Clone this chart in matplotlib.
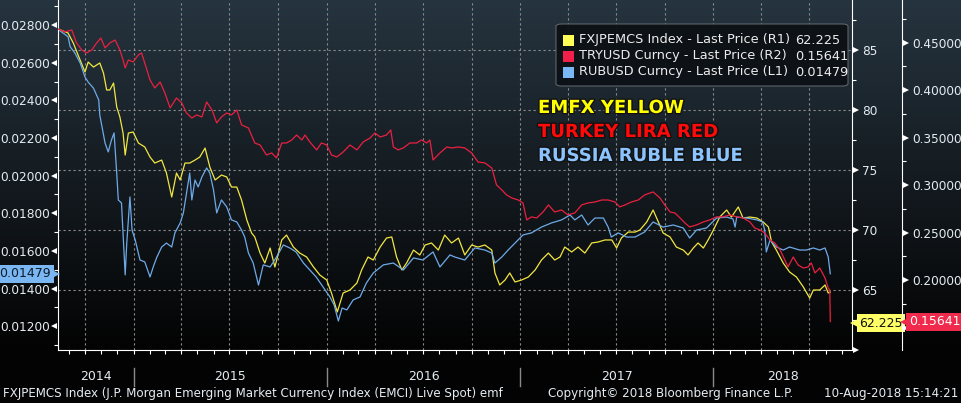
import numpy as np
import pandas as pd
import matplotlib
matplotlib.use('Agg')
import matplotlib.pyplot as plt
import matplotlib.dates as mdates
import matplotlib.ticker as mticker
import matplotlib.patheffects as pe
from matplotlib.transforms import blended_transform_factory as blend
from matplotlib.patches import FancyBboxPatch, Rectangle

start = pd.Timestamp('2014-08-11')
x_end = pd.Timestamp('2018-09-20')

# RUBUSD (L1), days after start
rub_days = [0, 19, 23, 32, 42, 51, 57, 67, 73, 77,
            79, 89, 95, 101, 106, 111, 114, 120, 123, 127,
            130, 136, 140, 146, 155, 164, 174, 180, 187, 196,
            205, 215, 221, 231, 237, 243, 249, 253, 259, 265,
            272, 281, 287, 294, 300, 309, 319, 328, 338, 347,
            353, 360, 369, 379, 388, 401, 412, 426, 438, 450,
            464, 476, 488, 501, 514, 522, 530, 537, 546, 558,
            571, 583, 596, 615, 634, 653, 672, 690, 709, 722,
            741, 750, 769, 788, 807, 820, 826, 839, 851, 864,
            879, 895, 914, 933, 952, 968, 977, 990, 1002, 1015,
            1031, 1040, 1046, 1059, 1075, 1091, 1109, 1125, 1144, 1163,
            1182, 1194, 1207, 1226, 1245, 1264, 1276, 1280, 1283, 1302,
            1321, 1332, 1336, 1339, 1346, 1358, 1371, 1383, 1402, 1415,
            1428, 1440, 1450, 1456, 1460]
rub_vals = [0.02777, 0.02738, 0.02685, 0.02651, 0.02598, 0.02524, 0.02497, 0.02465, 0.02428, 0.02402,
            0.02322, 0.02173, 0.02126, 0.02189, 0.02227, 0.02014, 0.01871, 0.01855, 0.01696, 0.01473,
            0.01642, 0.01887, 0.01711, 0.01658, 0.01552, 0.01542, 0.01462, 0.01515, 0.01568, 0.01621,
            0.01642, 0.01621, 0.01696, 0.01749, 0.01802, 0.01908, 0.02014, 0.01871, 0.01977, 0.01940,
            0.01993, 0.02041, 0.02014, 0.01924, 0.01802, 0.01871, 0.01834, 0.01765, 0.01754, 0.01711,
            0.01674, 0.01589, 0.01536, 0.01419, 0.01526, 0.01515, 0.01563, 0.01632, 0.01616, 0.01595,
            0.01536, 0.01499, 0.01462, 0.01409, 0.01356, 0.01313, 0.01228, 0.01297, 0.01287, 0.01340,
            0.01356, 0.01430, 0.01483, 0.01526, 0.01536, 0.01499, 0.01563, 0.01552, 0.01595, 0.01515,
            0.01579, 0.01568, 0.01552, 0.01616, 0.01605, 0.01589, 0.01536, 0.01568, 0.01605, 0.01642,
            0.01685, 0.01696, 0.01727, 0.01749, 0.01765, 0.01791, 0.01765, 0.01791, 0.01738, 0.01775,
            0.01775, 0.01727, 0.01674, 0.01696, 0.01674, 0.01674, 0.01701, 0.01754, 0.01727, 0.01738,
            0.01722, 0.01669, 0.01711, 0.01722, 0.01775, 0.01780, 0.01770, 0.01727, 0.01780, 0.01775,
            0.01765, 0.01754, 0.01711, 0.01595, 0.01658, 0.01621, 0.01605, 0.01621, 0.01605, 0.01605,
            0.01616, 0.01605, 0.01616, 0.01568, 0.01479]

# FXJPEMCS index (R1)
emfx_days = [0, 19, 29, 38, 51, 57, 67, 79, 86, 92,
             98, 105, 111, 117, 123, 127, 133, 142, 152, 164,
             174, 183, 196, 205, 215, 224, 231, 240, 249, 259,
             268, 278, 287, 297, 309, 319, 328, 338, 347, 357,
             366, 372, 382, 391, 401, 410, 423, 432, 445, 457,
             470, 483, 495, 508, 517, 528, 539, 552, 565, 574,
             586, 596, 609, 621, 631, 640, 650, 659, 672, 684,
             694, 706, 719, 731, 744, 757, 769, 782, 794, 807,
             820, 826, 835, 845, 854, 864, 876, 889, 902, 914,
             927, 939, 949, 958, 971, 983, 996, 1009, 1021, 1034,
             1047, 1056, 1065, 1078, 1091, 1100, 1113, 1125, 1135, 1144,
             1157, 1169, 1182, 1191, 1201, 1210, 1220, 1229, 1239, 1251,
             1264, 1273, 1286, 1295, 1308, 1321, 1333, 1343, 1349, 1358,
             1371, 1383, 1396, 1409, 1421, 1428, 1440, 1450, 1456, 1460]
emfx_vals = [86.75, 86.42, 85.58, 84.58, 83.17, 84.00, 83.58, 83.92, 83.08, 81.67,
             81.67, 82.25, 80.25, 79.42, 78.08, 76.25, 78.08, 78.17, 77.25, 76.92,
             76.08, 75.58, 75.83, 74.75, 72.75, 74.75, 74.17, 75.58, 75.58, 75.83,
             76.08, 76.83, 75.25, 74.17, 74.58, 74.42, 73.58, 73.58, 72.50, 70.83,
             69.75, 69.42, 68.08, 67.25, 68.50, 66.92, 69.17, 69.58, 68.58, 68.08,
             67.75, 66.92, 66.25, 65.83, 64.75, 63.17, 64.75, 65.00, 65.58, 66.67,
             67.75, 67.50, 68.58, 69.33, 69.42, 67.75, 66.67, 67.25, 68.33, 67.92,
             68.75, 68.92, 68.33, 69.58, 68.92, 69.33, 67.92, 68.75, 68.58, 68.75,
             68.33, 66.42, 65.42, 65.83, 66.42, 65.67, 65.83, 66.08, 66.67, 67.50,
             68.08, 67.50, 67.75, 68.58, 68.17, 68.58, 68.08, 68.92, 69.00, 69.17,
             69.17, 68.50, 69.33, 69.83, 69.83, 70.00, 70.67, 71.67, 70.67, 69.75,
             69.42, 68.58, 68.33, 67.92, 68.50, 68.92, 68.50, 69.17, 70.00, 71.08,
             71.67, 71.08, 71.92, 71.00, 71.08, 71.00, 70.67, 70.25, 69.00, 68.33,
             67.25, 66.50, 66.08, 65.25, 64.33, 65.00, 65.00, 65.42, 64.75, 64.83]

# TRYUSD (R2)
try_days = [0, 13, 26, 35, 45, 54, 64, 73, 81, 89,
            98, 108, 117, 123, 127, 133, 142, 152, 158, 164,
            174, 183, 193, 202, 212, 218, 224, 234, 243, 253,
            262, 272, 281, 291, 300, 309, 319, 328, 338, 347,
            360, 372, 382, 394, 404, 413, 423, 432, 442, 451,
            461, 467, 476, 489, 498, 508, 517, 527, 539, 552,
            565, 577, 590, 599, 609, 621, 629, 634, 643, 653,
            665, 678, 687, 697, 703, 709, 722, 735, 744, 757,
            769, 782, 794, 807, 820, 829, 839, 848, 858, 870,
            879, 886, 895, 905, 917, 927, 939, 952, 964, 977,
            990, 1002, 1015, 1028, 1040, 1053, 1062, 1072, 1084, 1097,
            1109, 1125, 1138, 1147, 1157, 1166, 1176, 1185, 1194, 1207,
            1220, 1232, 1245, 1257, 1270, 1283, 1295, 1308, 1317, 1327,
            1336, 1346, 1355, 1365, 1374, 1380, 1390, 1399, 1409, 1418,
            1424, 1431, 1440, 1450, 1456, 1459, 1460]
try_vals = [0.4644, 0.4613, 0.4634, 0.4497, 0.4423, 0.4392, 0.4423, 0.4497, 0.4549, 0.4444,
            0.4497, 0.4528, 0.4423, 0.4318, 0.4234, 0.4318, 0.4297, 0.4371, 0.4392, 0.4286,
            0.4107, 0.4023, 0.4086, 0.3971, 0.3813, 0.3865, 0.3918, 0.3865, 0.3760, 0.3707,
            0.3739, 0.3718, 0.3876, 0.3792, 0.3655, 0.3718, 0.3760, 0.3739, 0.3792, 0.3634,
            0.3602, 0.3444, 0.3423, 0.3318, 0.3339, 0.3286, 0.3444, 0.3444, 0.3476, 0.3528,
            0.3476, 0.3528, 0.3455, 0.3371, 0.3444, 0.3423, 0.3318, 0.3297, 0.3349, 0.3423,
            0.3371, 0.3455, 0.3497, 0.3549, 0.3507, 0.3528, 0.3581, 0.3402, 0.3371, 0.3392,
            0.3444, 0.3444, 0.3476, 0.3444, 0.3476, 0.3265, 0.3339, 0.3402, 0.3392, 0.3402,
            0.3392, 0.3339, 0.3244, 0.3234, 0.3181, 0.3002, 0.2950, 0.2897, 0.2865, 0.2844,
            0.2813, 0.2634, 0.2666, 0.2655, 0.2718, 0.2792, 0.2718, 0.2739, 0.2687, 0.2708,
            0.2792, 0.2813, 0.2823, 0.2844, 0.2844, 0.2823, 0.2771, 0.2792, 0.2823, 0.2844,
            0.2897, 0.2929, 0.2865, 0.2792, 0.2718, 0.2708, 0.2655, 0.2603, 0.2560, 0.2581,
            0.2613, 0.2634, 0.2666, 0.2666, 0.2687, 0.2666, 0.2655, 0.2613, 0.2550, 0.2529,
            0.2497, 0.2423, 0.2392, 0.2318, 0.2213, 0.2139, 0.2244, 0.2160, 0.2128, 0.2139,
            0.2181, 0.2076, 0.2128, 0.2023, 0.1918, 0.1897, 0.15641]

last_emfx = 62.225
last_try = 0.15641
last_rub = 0.01479

years = [2014, 2015, 2016, 2017, 2018]

c_yel, c_red, c_blue = '#f2e640', '#ea2040', '#6eaae8'
txt = '#e4ecf2'
W, H = 961, 403

fig = plt.figure(figsize=(W / 100, H / 100), dpi=100)
fig.patch.set_facecolor('black')

# background gradient
bg = fig.add_axes([0, 0, 1, 1], zorder=-10)
t = np.clip(np.arange(H) / 350.0, 0, 1)[:, None]
top, bot = np.array([38, 52, 63]) / 255, np.array([3, 3, 3]) / 255
grad = (top * (1 - t) + bot * t)[:, None, :].repeat(2, axis=1)
bg.imshow(grad, aspect='auto', extent=[0, 1, 0, 1])
bg.axis('off')

rect = [58 / W, 1 - 350 / H, 794 / W, 350 / H]
ax_e = fig.add_axes(rect)
ax_e.patch.set_alpha(0)
ax_r = ax_e.twinx()
ax_t = ax_e.twinx()

def to_dates(days):
    return start + pd.to_timedelta(days, unit='D')

ax_e.plot(to_dates(emfx_days), emfx_vals, color=c_yel, lw=0.9)
ax_r.plot(to_dates(rub_days), rub_vals, color=c_blue, lw=0.9)
ax_t.plot(to_dates(try_days), try_vals, color=c_red, lw=0.9)

ax_e.set_xlim(start, x_end)
ax_e.set_ylim(60.0, 89.17)
ax_r.set_ylim(0.01074, 0.02933)
ax_t.set_ylim(0.1265, 0.4949)

for a in (ax_e, ax_r, ax_t):
    for s in a.spines.values():
        s.set_visible(False)

# x axis
ax_e.spines['bottom'].set_visible(True)
ax_e.spines['bottom'].set_color('white')
ax_e.xaxis.set_major_locator(mdates.MonthLocator(bymonth=[1, 4, 7, 10]))
ax_e.xaxis.set_minor_locator(mdates.MonthLocator())
ax_e.xaxis.set_major_formatter(mticker.NullFormatter())
ax_e.tick_params(axis='x', which='both', direction='out', length=3, color='white', width=0.8)
ax_e.grid(axis='x', which='major', color='#8c8c8c', ls=(0, (2, 2.5)), lw=0.8)
ax_e.grid(axis='y', which='major', color='#8c8c8c', ls=(0, (2, 2.5)), lw=0.8)
ax_e.set_axisbelow(True)

xt = blend(ax_e.transData, ax_e.transAxes)
x0, x1 = mdates.date2num(start), mdates.date2num(x_end)
for yr in years:
    a = max(mdates.date2num(pd.Timestamp(f'{yr}-01-01')), x0)
    b = min(mdates.date2num(pd.Timestamp(f'{yr + 1}-01-01')), x1)
    ax_e.text((a + b) / 2, -27 / 350, str(yr), transform=xt, ha='center', va='center',
              color=txt, fontsize=9)
    if yr > 2014:
        ax_e.plot([a, a], [-18 / 350, -36 / 350], transform=xt, color='#8a8a8a',
                  lw=1, clip_on=False)

# R1 axis (yellow) on the right
ax_e.yaxis.tick_right()
ax_e.spines['right'].set_visible(True)
ax_e.spines['right'].set_color('white')
ax_e.yaxis.set_major_locator(mticker.MultipleLocator(5))
ax_e.yaxis.set_minor_locator(mticker.MultipleLocator(2.5))
ax_e.yaxis.set_major_formatter(mticker.FuncFormatter(lambda v, p: '' if v < 61 else f'{v:.0f}'))

# L1 axis (blue) on the left
ax_r.yaxis.tick_left()
ax_r.spines['left'].set_visible(True)
ax_r.spines['left'].set_color('white')
ax_r.yaxis.set_major_locator(mticker.MultipleLocator(0.002))
ax_r.yaxis.set_minor_locator(mticker.MultipleLocator(0.001))
ax_r.yaxis.set_major_formatter(mticker.FormatStrFormatter('%.5f'))

# R2 axis (red), outward
off = 50 / 794
ax_t.spines['right'].set_visible(True)
ax_t.spines['right'].set_position(('outward', 36))
ax_t.spines['right'].set_color('white')
ax_t.yaxis.set_major_locator(mticker.MultipleLocator(0.05))
ax_t.yaxis.set_minor_locator(mticker.MultipleLocator(0.025))
ax_t.yaxis.set_major_formatter(mticker.FuncFormatter(lambda v, p: '' if v < 0.16 else f'{v:.5f}'))

px = 1 / 794
for a, xpos, mk, pad in ((ax_e, 1 + 4 * px, '>', 7.2), (ax_r, -4 * px, '<', 5.8),
                         (ax_t, 1 + off + 4 * px, '>', 7.2)):
    a.tick_params(axis='y', which='major', length=0, pad=pad, labelcolor=txt, labelsize=8.7)
    a.tick_params(axis='y', which='minor', length=3, color='white', width=0.8, direction='out')
    lo, hi = a.get_ylim()
    tv = [v for v in a.yaxis.get_major_locator().tick_values(lo, hi) if lo <= v <= hi]
    a.plot([xpos] * len(tv), tv, ls='none', marker=mk, ms=5, mew=0, color='white',
           transform=blend(a.transAxes, a.transData), clip_on=False)

# last value tags
tr_e = blend(ax_e.transAxes, ax_e.transData)
ax_e.plot([1 + 5 * px], [last_emfx], ls='none', marker='<', ms=10, mew=0, color='#ffff66',
          transform=tr_e, clip_on=False, zorder=5)
ax_e.text(1 + 7 * px, last_emfx, f'{last_emfx:.3f}', transform=tr_e, ha='left', va='center',
          fontsize=9, color='#111111', zorder=6,
          bbox=dict(boxstyle='square,pad=0.2', fc='#ffff66', ec='none'))
tr_t = blend(ax_t.transAxes, ax_t.transData)
ax_t.plot([1 + off + 5 * px], [last_try], ls='none', marker='<', ms=10, mew=0, color='#f02a4c',
          transform=tr_t, clip_on=False, zorder=5)
ax_t.text(1 + off + 7 * px, last_try, f'{last_try:.5f}', transform=tr_t, ha='left', va='center',
          fontsize=9, color='white', zorder=6,
          bbox=dict(boxstyle='square,pad=0.2', fc='#f02a4c', ec='none'))
tr_r = blend(ax_r.transAxes, ax_r.transData)
ax_r.plot([-5 * px], [last_rub], ls='none', marker='>', ms=10, mew=0, color='#7ab6f2',
          transform=tr_r, clip_on=False, zorder=5)
ax_r.text(-7 * px, last_rub, f'{last_rub:.5f}', transform=tr_r, ha='right', va='center',
          fontsize=9, color='#0c1a2a', zorder=6,
          bbox=dict(boxstyle='square,pad=0.2', fc='#7ab6f2', ec='none'))

# legend box
def fx(p):
    return p / W

def fy(p):
    return 1 - p / H

fig.patches.append(FancyBboxPatch((fx(556), fy(86)), fx(292), 62 / H,
                                  boxstyle='round,pad=0,rounding_size=0.006',
                                  transform=fig.transFigure, fc='#0c1116', ec='#62676e',
                                  lw=0.8, alpha=0.95, zorder=20))
leg = [('FXJPEMCS Index - Last Price (R1)', f'{last_emfx:.3f}', '#ffff55'),
       ('TRYUSD Curncy - Last Price (R2)', f'{last_try:.5f}', '#f0204a'),
       ('RUBUSD Curncy - Last Price (L1)', f'{last_rub:.5f}', '#7ab8f5')]
for i, (name, val, col) in enumerate(leg):
    yc = 40 + 16 * i
    fig.patches.append(Rectangle((fx(563), fy(yc + 6)), fx(11), 11 / H,
                                 transform=fig.transFigure, fc=col, ec='none', zorder=21))
    fig.text(fx(579), fy(yc), name, ha='left', va='center', color='#ececec', fontsize=9.3, zorder=22)
    fig.text(fx(795), fy(yc), val, ha='left', va='center', color='#ececec', fontsize=9.3, zorder=22)

# colour notes
notes = [('EMFX YELLOW', '#ffff00'), ('TURKEY LIRA RED', '#ff0a0a'), ('RUSSIA RUBLE BLUE', '#8cc4ff')]
for i, (s, col) in enumerate(notes):
    fig.text(fx(538), fy(108 + 24 * i), s, ha='left', va='center', color=col, fontsize=13,
             fontweight='bold', zorder=22,
             path_effects=[pe.withStroke(linewidth=2, foreground='#111111')])

# footer
fig.text(fx(3), fy(394), 'FXJPEMCS Index (J.P. Morgan Emerging Market Currency Index (EMCI) Live Spot) emf',
         ha='left', va='center', color=txt, fontsize=8.6)
fig.text(fx(548), fy(394), 'Copyright\u00a9 2018 Bloomberg Finance L.P.', ha='left', va='center',
         color=txt, fontsize=8.6)
fig.text(fx(958), fy(394), '10-Aug-2018 15:14:21', ha='right', va='center', color=txt, fontsize=8.6)

fig.savefig('out.png', dpi=100, facecolor='black')
